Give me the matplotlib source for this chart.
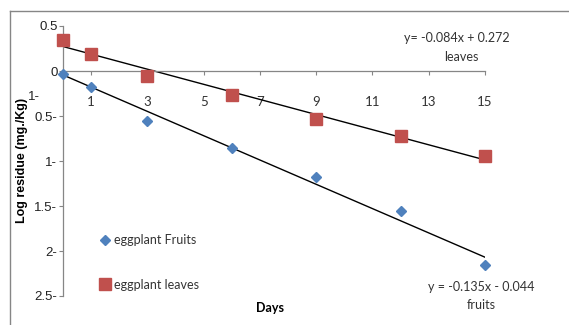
import matplotlib.pyplot as plt
from matplotlib.lines import Line2D

plt.rcParams.update({'font.family': 'Lato', 'font.size': 9})

days = [0, 1, 3, 6, 9, 12, 15]
fruits = [-0.03, -0.18, -0.55, -0.86, -1.18, -1.56, -2.16]
leaves = [0.34, 0.19, -0.05, -0.27, -0.53, -0.72, -0.94]

fruit_fit = (-0.135, -0.044)
leaf_fit = (-0.084, 0.272)

xticks = [1, 3, 5, 7, 9, 11, 13, 15]
yticks = [0.5, 0, -0.5, -1, -1.5, -2, -2.5]
ytick_labels = ['0.5', '0', '0.5-', '1-', '1.5-', '2-', '2.5-']

blue = '#4F81BD'
red = '#C0504D'
gray = '#868686'

fig = plt.figure(figsize=(5.69, 3.25), dpi=100)
ax = fig.add_axes([63/569, 1 - 296/325, (485 - 63)/569, (296 - 26)/325])

# outer chart border (only top and left visible)
fig.add_artist(Line2D([10/569, 10/569], [0, 1 - 11/325], color=gray, lw=1, transform=fig.transFigure))
fig.add_artist(Line2D([10/569, 1], [1 - 11/325, 1 - 11/325], color=gray, lw=1, transform=fig.transFigure))

# trendlines
xs = [0, 15]
ax.plot(xs, [fruit_fit[0]*x + fruit_fit[1] for x in xs], color='black', lw=1, zorder=2)
ax.plot(xs, [leaf_fit[0]*x + leaf_fit[1] for x in xs], color='black', lw=1, zorder=2)

ax.plot(days, fruits, linestyle='none', marker='D', ms=5.5, color=blue, mec=blue,
        label='eggplant Fruits', zorder=3, clip_on=False)
ax.plot(days, leaves, linestyle='none', marker='s', ms=8, color=red, mec=red,
        label='eggplant leaves', zorder=3, clip_on=False)

ax.set_xlim(0, 15)
ax.set_ylim(-2.5, 0.5)

ax.spines['top'].set_visible(False)
ax.spines['right'].set_visible(False)
ax.spines['bottom'].set_position(('data', 0))
for s in ['left', 'bottom']:
    ax.spines[s].set_color(gray)
    ax.spines[s].set_linewidth(0.9)

ax.set_xticks(xticks)
ax.set_xticklabels([str(x) for x in xticks], fontsize=9.5, color='#333333')
ax.tick_params(axis='x', direction='out', length=3, color=gray, pad=15)

ax.set_yticks(yticks)
ax.set_yticklabels(ytick_labels, fontsize=9.5, family='Liberation Sans', color='#222222')
ax.tick_params(axis='y', direction='out', length=3, color=gray, pad=1)

# stray label from the original
fig.text(34/569, 1 - 97/325, '1-', fontsize=9.5, family='Liberation Sans',
         ha='center', va='center', color='#222222')

fig.text(22/569, 1 - 160/325, 'Log residue (mg./Kg)', rotation=90, fontsize=9,
         fontweight='bold', family='Liberation Sans', ha='center', va='center')
fig.text(270/569, 1 - 308/325, 'Days', fontsize=9, fontweight='bold', ha='center', va='center')

fig.text(457/569, 1 - 38/325, 'y= -0.084x + 0.272', fontsize=9, ha='center', va='center', color='#333333')
fig.text(461/569, 1 - 57/325, 'leaves', fontsize=9, ha='center', va='center', color='#333333')
fig.text(481/569, 1 - 287/325, 'y = -0.135x - 0.044', fontsize=9, ha='center', va='center', color='#333333')
fig.text(481/569, 1 - 305/325, 'fruits', fontsize=9, ha='center', va='center', color='#333333')

ax.legend(loc='upper left', bbox_to_anchor=(92/569, 1 - 228/325), bbox_transform=fig.transFigure,
          frameon=False, fontsize=9, labelspacing=2.6, handletextpad=0.3, handlelength=1.0,
          borderpad=0, labelcolor='#333333')

fig.savefig('out.png', dpi=100)
